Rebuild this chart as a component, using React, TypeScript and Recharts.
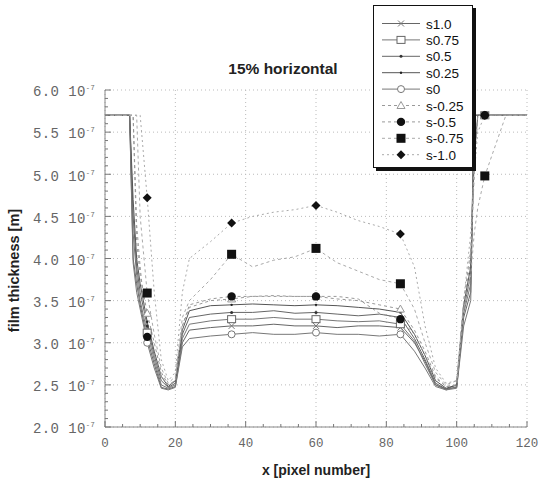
import React from "react";
import { LineChart, Line, XAxis, YAxis, CartesianGrid, Legend } from "recharts";

// x positions (pixel number) shared by every series
const X_PIXEL = [0, 7, 8, 9, 10, 12, 14, 16, 18, 20, 22, 24, 30, 36, 42, 48, 54, 60, 66, 72, 78, 84, 88, 91, 94, 97, 100, 102, 104, 105, 106, 108, 114, 120];

// film thickness values, units of 1e-7 m
const S_POS_100 = [5.7, 5.7, 4.0, 3.7, 3.45, 3.05, 2.75, 2.47, 2.45, 2.48, 3.0, 3.15, 3.18, 3.2, 3.2, 3.22, 3.2, 3.2, 3.18, 3.2, 3.2, 3.18, 3.0, 2.78, 2.5, 2.45, 2.47, 3.3, 3.6, 5.7, 5.7, 5.7, 5.7, 5.7];
const S_POS_075 = [5.7, 5.7, 4.3, 3.8, 3.5, 3.12, 2.8, 2.5, 2.46, 2.5, 3.05, 3.22, 3.26, 3.28, 3.28, 3.3, 3.28, 3.28, 3.26, 3.25, 3.26, 3.22, 3.02, 2.75, 2.5, 2.44, 2.48, 3.35, 3.7, 5.7, 5.7, 5.7, 5.7, 5.7];
const S_POS_050 = [5.7, 5.7, 4.5, 3.9, 3.6, 3.2, 2.85, 2.55, 2.47, 2.52, 3.1, 3.3, 3.34, 3.36, 3.36, 3.38, 3.35, 3.36, 3.34, 3.32, 3.34, 3.3, 3.05, 2.8, 2.52, 2.45, 2.5, 3.4, 3.8, 5.7, 5.7, 5.7, 5.7, 5.7];
const S_POS_025 = [5.7, 5.7, 4.7, 4.0, 3.7, 3.25, 2.9, 2.6, 2.48, 2.55, 3.15, 3.38, 3.44, 3.45, 3.46, 3.45, 3.44, 3.45, 3.44, 3.42, 3.4, 3.36, 3.1, 2.85, 2.55, 2.46, 2.5, 3.45, 3.9, 5.2, 5.7, 5.7, 5.7, 5.7];
const S_ZERO = [5.7, 5.7, 3.95, 3.6, 3.4, 3.0, 2.7, 2.46, 2.44, 2.47, 2.95, 3.05, 3.08, 3.1, 3.12, 3.1, 3.1, 3.12, 3.1, 3.1, 3.08, 3.1, 2.9, 2.7, 2.48, 2.44, 2.46, 3.2, 3.5, 5.7, 5.7, 5.7, 5.7, 5.7];
const S_NEG_025 = [5.7, 5.7, 5.7, 4.2, 3.8, 3.35, 3.0, 2.65, 2.5, 2.55, 3.2, 3.42, 3.5, 3.52, 3.55, 3.56, 3.55, 3.55, 3.52, 3.5, 3.45, 3.4, 3.15, 2.9, 2.6, 2.48, 2.5, 3.45, 4.0, 5.0, 5.7, 5.7, 5.7, 5.7];
const S_NEG_050 = [5.7, 5.7, 5.7, 4.4, 3.9, 3.07, 2.85, 2.6, 2.5, 2.55, 3.2, 3.45, 3.52, 3.55, 3.55, 3.55, 3.55, 3.55, 3.55, 3.52, 3.35, 3.28, 3.1, 2.85, 2.58, 2.48, 2.5, 3.5, 4.1, 5.2, 5.7, 5.7, 5.7, 5.7];
const S_NEG_075 = [5.7, 5.7, 5.7, 5.7, 4.5, 3.59, 3.1, 2.7, 2.52, 2.6, 3.3, 3.5, 3.75, 4.05, 3.9, 3.98, 4.02, 4.12, 3.95, 3.85, 3.75, 3.7, 3.4, 3.0, 2.65, 2.5, 2.55, 3.4, 3.8, 4.3, 4.6, 4.98, 5.7, 5.7];
const S_NEG_100 = [5.7, 5.7, 5.7, 5.7, 5.7, 4.72, 3.6, 2.8, 2.55, 2.65, 3.6, 4.0, 4.2, 4.42, 4.5, 4.55, 4.58, 4.63, 4.55, 4.45, 4.38, 4.29, 3.9, 3.2, 2.7, 2.52, 2.55, 3.5, 4.3, 5.0, 5.5, 5.7, 5.7, 5.7];

// symbols are only plotted every 24 pixels
const MARK_X = [12, 36, 60, 84, 108];

const X_TICKS = [0, 20, 40, 60, 80, 100, 120];
const Y_TICKS = [2.0, 2.5, 3.0, 3.5, 4.0, 4.5, 5.0, 5.5, 6.0];
const X_MINOR = Array.from({ length: 25 }, (_, i) => i * 5);
const Y_MINOR = Array.from({ length: 41 }, (_, i) => Math.round(20 + i) / 10);

type Marker = "plus" | "openSquare" | "dot" | "smallDot" | "openCircle" | "openTriangle" | "circle" | "square" | "diamond";

const SERIES: { key: string; name: string; values: number[]; stroke: string; dash?: string; marker: Marker }[] = [
  { key: "p100", name: "s1.0", values: S_POS_100, stroke: "#666", marker: "plus" },
  { key: "p075", name: "s0.75", values: S_POS_075, stroke: "#777", marker: "openSquare" },
  { key: "p050", name: "s0.5", values: S_POS_050, stroke: "#666", marker: "dot" },
  { key: "p025", name: "s0.25", values: S_POS_025, stroke: "#555", marker: "smallDot" },
  { key: "z000", name: "s0", values: S_ZERO, stroke: "#777", marker: "openCircle" },
  { key: "n025", name: "s-0.25", values: S_NEG_025, stroke: "#999", dash: "3 3", marker: "openTriangle" },
  { key: "n050", name: "s-0.5", values: S_NEG_050, stroke: "#999", dash: "3 3", marker: "circle" },
  { key: "n075", name: "s-0.75", values: S_NEG_075, stroke: "#aaa", dash: "3 3", marker: "square" },
  { key: "n100", name: "s-1.0", values: S_NEG_100, stroke: "#aaa", dash: "2 3", marker: "diamond" },
];

const data = X_PIXEL.map((x, i) => {
  const row: Record<string, number> = { x };
  SERIES.forEach((s) => {
    row[s.key] = s.values[i];
  });
  return row;
});

const MONO = '"Liberation Mono", "DejaVu Sans Mono", monospace';
const SANS = '"Liberation Sans", Arial, sans-serif';

function drawMarker(m: Marker, cx: number, cy: number) {
  switch (m) {
    case "plus":
      return (
        <g stroke="#777" strokeWidth={1} fill="none">
          <path d={`M${cx - 3},${cy - 3}L${cx + 3},${cy + 3}M${cx + 3},${cy - 3}L${cx - 3},${cy + 3}`} />
        </g>
      );
    case "openSquare":
      return <rect x={cx - 4} y={cy - 3.5} width={8} height={7} fill="#fff" stroke="#666" />;
    case "dot":
      return <circle cx={cx} cy={cy} r={1.5} fill="#333" />;
    case "smallDot":
      return <circle cx={cx} cy={cy} r={1.2} fill="#222" />;
    case "openCircle":
      return <circle cx={cx} cy={cy} r={3.5} fill="#fff" stroke="#777" />;
    case "openTriangle":
      return <path d={`M${cx},${cy - 4}L${cx + 4},${cy + 3}L${cx - 4},${cy + 3}Z`} fill="#fff" stroke="#999" />;
    case "circle":
      return <circle cx={cx} cy={cy} r={4.2} fill="#111" />;
    case "square":
      return <rect x={cx - 4.5} y={cy - 4.5} width={9} height={9} fill="#111" />;
    case "diamond":
      return <path d={`M${cx},${cy - 4.5}L${cx + 4.5},${cy}L${cx},${cy + 4.5}L${cx - 4.5},${cy}Z`} fill="#111" />;
  }
  return null;
}

const makeDot = (m: Marker) => (props: any) => {
  const { cx, cy, payload, index } = props;
  if (cx == null || cy == null || !MARK_X.includes(payload.x)) return <g key={index} />;
  return <g key={index}>{drawMarker(m, cx, cy)}</g>;
};

const isMajorY = (v: number) => Math.abs(v * 2 - Math.round(v * 2)) < 1e-6;

// bottom axis: minor ticks pointing inward, labels at multiples of 20
const BottomTick = (props: any) => {
  const { x, y, payload } = props;
  const v = payload.value;
  const base = y - 10;
  const major = v % 20 === 0;
  return (
    <g>
      <line x1={x} x2={x} y1={base} y2={base - (major ? 6 : 3)} stroke="#777" />
      {major && (
        <text x={x} y={y} dy="0.8em" textAnchor="middle" fontFamily={MONO} fontSize={12.5} fill="#666">
          {v}
        </text>
      )}
    </g>
  );
};

const LeftTick = (props: any) => {
  const { x, y, payload } = props;
  const v = payload.value;
  const major = isMajorY(v);
  return (
    <g>
      <line x1={x + 10} x2={x + 10 + (major ? 6 : 3)} y1={y} y2={y} stroke="#777" />
      {major && (
        <text x={x} y={y} dy="0.45em" textAnchor="end" fontFamily={MONO} fontSize={14} fill="#666" letterSpacing={0.4}>
          <tspan>{v.toFixed(1)} 10</tspan>
          <tspan dy={-6} fontSize={7}>-7</tspan>
        </text>
      )}
    </g>
  );
};

const RightTick = (props: any) => {
  const { x, y, payload } = props;
  const major = isMajorY(payload.value);
  return <line x1={x} x2={x - (major ? 6 : 3)} y1={y} y2={y} stroke="#777" />;
};

const TopTick = (props: any) => {
  const { x, y, payload } = props;
  const major = payload.value % 20 === 0;
  return <line x1={x} x2={x} y1={y} y2={y + (major ? 6 : 3)} stroke="#777" />;
};

const LegendBox = () => (
  <div
    style={{
      width: 100,
      height: 163,
      background: "#fff",
      border: "1px solid #111",
      boxShadow: "3px 3px 0 #111",
      boxSizing: "border-box",
    }}
  >
    <svg width={100} height={163}>
      {SERIES.map((s, i) => {
        const y = 17.5 + i * 16.4;
        return (
          <g key={s.key}>
            <line x1={8} x2={46} y1={y} y2={y} stroke={s.stroke} strokeDasharray={s.dash} />
            {drawMarker(s.marker, 27, y)}
            <text x={52} y={y + 5} fontFamily={SANS} fontSize={13.5} fill="#111">
              {s.name}
            </text>
          </g>
        );
      })}
    </svg>
  </div>
);

export default function App() {
  return (
    <div style={{ position: "absolute", left: 0, top: 0, width: 548, height: 485, background: "#fff" }}>
      <div
        style={{
          position: "absolute",
          left: 0,
          width: 566,
          top: 60,
          textAlign: "center",
          fontFamily: SANS,
          fontWeight: "bold",
          fontSize: 15.5,
          color: "#222",
        }}
      >
        15% horizontal
      </div>
      <LineChart width={548} height={485} data={data} margin={{ top: 90, right: 21, bottom: 0, left: 0 }}>
        <CartesianGrid
          horizontalValues={Y_TICKS}
          verticalValues={X_TICKS}
          stroke="#bbb"
          strokeDasharray="1 3"
        />
        <XAxis
          dataKey="x"
          type="number"
          domain={[0, 120]}
          ticks={X_MINOR}
          interval={0}
          height={58}
          tickSize={0}
          tickMargin={10}
          tickLine={false}
          axisLine={{ stroke: "#888" }}
          tick={<BottomTick />}
          label={{
            value: "x [pixel number]",
            position: "insideBottom",
            offset: 10,
            style: { fontFamily: SANS, fontWeight: "bold", fontSize: 14, fill: "#222" },
          }}
        />
        <XAxis
          xAxisId="top"
          orientation="top"
          type="number"
          dataKey="x"
          domain={[0, 120]}
          ticks={X_MINOR}
          interval={0}
          height={0}
          tickSize={0}
          tickMargin={0}
          tickLine={false}
          axisLine={{ stroke: "#888" }}
          tick={<TopTick />}
        />
        <YAxis
          type="number"
          domain={[2, 6]}
          ticks={Y_MINOR}
          interval={0}
          width={105}
          tickSize={0}
          tickMargin={10}
          tickLine={false}
          axisLine={{ stroke: "#888" }}
          tick={<LeftTick />}
          label={{
            value: "film thickness [m]",
            angle: -90,
            position: "insideLeft",
            offset: 14,
            dy: 12,
            style: { textAnchor: "middle", fontFamily: SANS, fontWeight: "bold", fontSize: 14.5, fill: "#222" },
          }}
        />
        <YAxis
          yAxisId="right"
          orientation="right"
          type="number"
          domain={[2, 6]}
          ticks={Y_MINOR}
          interval={0}
          width={0}
          tickSize={0}
          tickMargin={0}
          tickLine={false}
          axisLine={{ stroke: "#888" }}
          tick={<RightTick />}
        />
        {SERIES.map((s) => (
          <Line
            key={s.key}
            type="linear"
            dataKey={s.key}
            name={s.name}
            stroke={s.stroke}
            strokeWidth={1}
            strokeDasharray={s.dash}
            dot={makeDot(s.marker)}
            activeDot={false}
            isAnimationActive={false}
          />
        ))}
        <Legend
          layout="horizontal"
          verticalAlign="middle"
          align="center"
          content={<LegendBox />}
          wrapperStyle={{ position: "absolute", left: 373, top: 5, width: 104, height: 168 }}
        />
      </LineChart>
    </div>
  );
}
